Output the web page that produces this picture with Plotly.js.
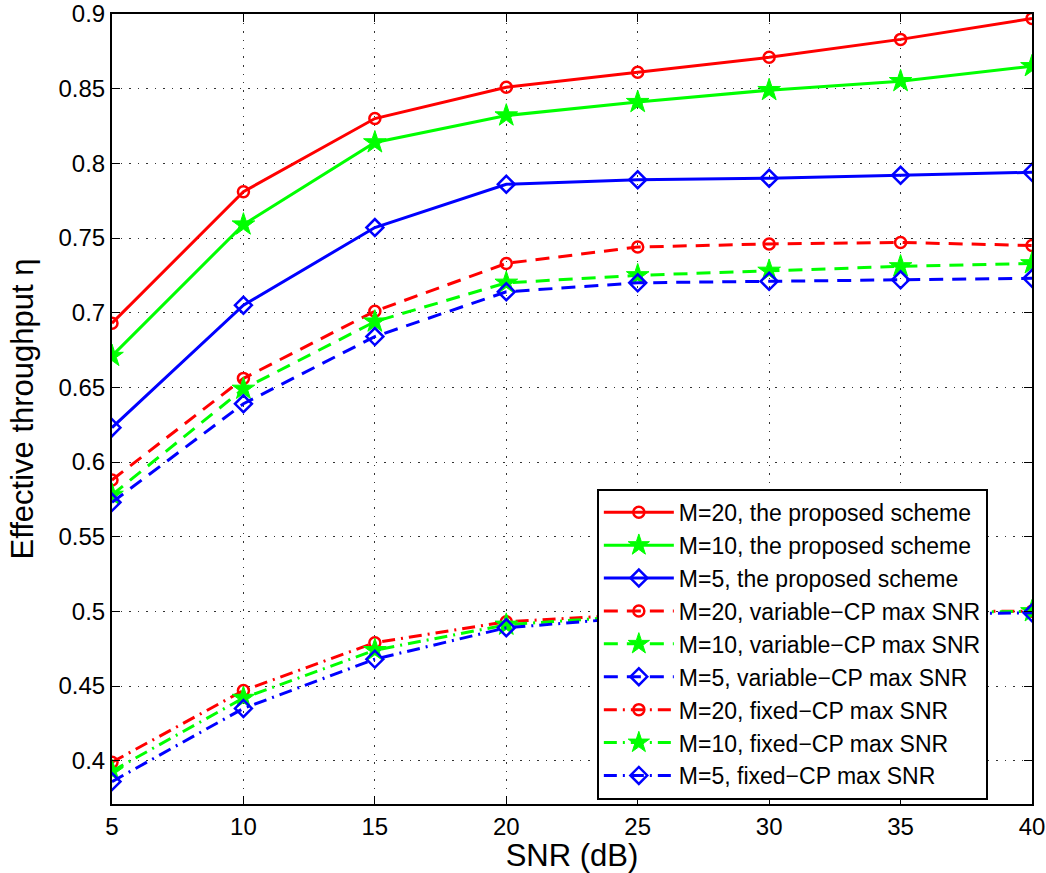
<!DOCTYPE html>
<html>
<head>
<meta charset="utf-8">
<script src="https://cdn.plot.ly/plotly-3.0.1.min.js"></script>
<style>html,body{margin:0;padding:0;background:#fff;}#chart{width:1046px;height:873px;}</style>
</head>
<body>
<div id="chart"></div>
<script>
var snr = [5, 10, 15, 20, 25, 30, 35, 40];

var propM20 = [0.693, 0.781, 0.830, 0.851, 0.861, 0.871, 0.883, 0.897];
var propM10 = [0.671, 0.759, 0.814, 0.832, 0.841, 0.849, 0.855, 0.865];
var propM5  = [0.623, 0.705, 0.757, 0.786, 0.789, 0.790, 0.792, 0.794];

var varM20 = [0.588, 0.656, 0.701, 0.733, 0.744, 0.746, 0.747, 0.745];
var varM10 = [0.578, 0.649, 0.694, 0.720, 0.725, 0.728, 0.731, 0.733];
var varM5  = [0.573, 0.639, 0.684, 0.714, 0.720, 0.721, 0.722, 0.723];

var fixM20 = [0.399, 0.447, 0.479, 0.493, 0.498, 0.499, 0.500, 0.500];
var fixM10 = [0.393, 0.442, 0.474, 0.491, 0.497, 0.498, 0.499, 0.500];
var fixM5  = [0.386, 0.435, 0.468, 0.489, 0.496, 0.497, 0.498, 0.499];

var yTicks = [0.4, 0.45, 0.5, 0.55, 0.6, 0.65, 0.7, 0.75, 0.8, 0.85, 0.9];
var yTickText = ['0.4', '0.45', '0.5', '0.55', '0.6', '0.65', '0.7', '0.75', '0.8', '0.85', '0.9'];

var names = [
  'M=20, the proposed scheme', 'M=10, the proposed scheme', 'M=5, the proposed scheme',
  'M=20, variable\u2212CP max SNR', 'M=10, variable\u2212CP max SNR', 'M=5, variable\u2212CP max SNR',
  'M=20, fixed\u2212CP max SNR', 'M=10, fixed\u2212CP max SNR', 'M=5, fixed\u2212CP max SNR'
];
var series = [propM20, propM10, propM5, varM20, varM10, varM5, fixM20, fixM10, fixM5];
var colors = ['#ff0000', '#00ff00', '#0000ff'];
var symbols = ['circle-open', 'star', 'diamond-open'];
var sizes = [11, 17, 13];
var mlw = [2.5, 1, 2.5];
var dashes = ['solid', '14px,9px', '13px,6px,2px,6px'];

var traces = series.map(function (ys, i) {
  var c = i % 3, g = Math.floor(i / 3);
  return {
    x: snr, y: ys, name: names[i], type: 'scatter', mode: 'lines+markers',
    line: {color: colors[c], width: 3, dash: dashes[g]},
    marker: {symbol: symbols[c], size: sizes[c], color: colors[c],
             line: {color: colors[c], width: mlw[c]}}
  };
});

var gridStyle = {showgrid: true, gridcolor: '#333', griddash: '1.5px,7px', gridwidth: 1};

var layout = {
  width: 1046, height: 873,
  margin: {l: 112, r: 14, t: 14, b: 69},
  paper_bgcolor: '#ffffff', plot_bgcolor: '#ffffff',
  font: {family: 'Liberation Sans, Arial, sans-serif', color: '#000', size: 24},
  showlegend: true,
  legend: {x: 0.527, y: 0.399, xanchor: 'left', yanchor: 'top',
           bgcolor: '#ffffff', bordercolor: '#000', borderwidth: 2,
           font: {size: 23}, tracegroupgap: 0, itemwidth: 70},
  xaxis: Object.assign({
    range: [5, 40], tickvals: snr, ticks: 'inside', ticklen: 8, tickcolor: '#000',
    showline: true, linecolor: '#000', linewidth: 2, mirror: 'ticks', zeroline: false,
    tickfont: {size: 24},
    title: {text: 'SNR (dB)', font: {size: 31}, standoff: 4}
  }, gridStyle),
  yaxis: Object.assign({
    range: [0.371, 0.9], tickvals: yTicks, ticktext: yTickText,
    ticks: 'inside', ticklen: 8, tickcolor: '#000',
    showline: true, linecolor: '#000', linewidth: 2, mirror: 'ticks', zeroline: false,
    tickfont: {size: 24},
    title: {text: 'Effective throughput \u03b7', font: {size: 31}, standoff: 16}
  }, gridStyle)
};

Plotly.newPlot('chart', traces, layout, {displayModeBar: false, responsive: false});
</script>
</body>
</html>
